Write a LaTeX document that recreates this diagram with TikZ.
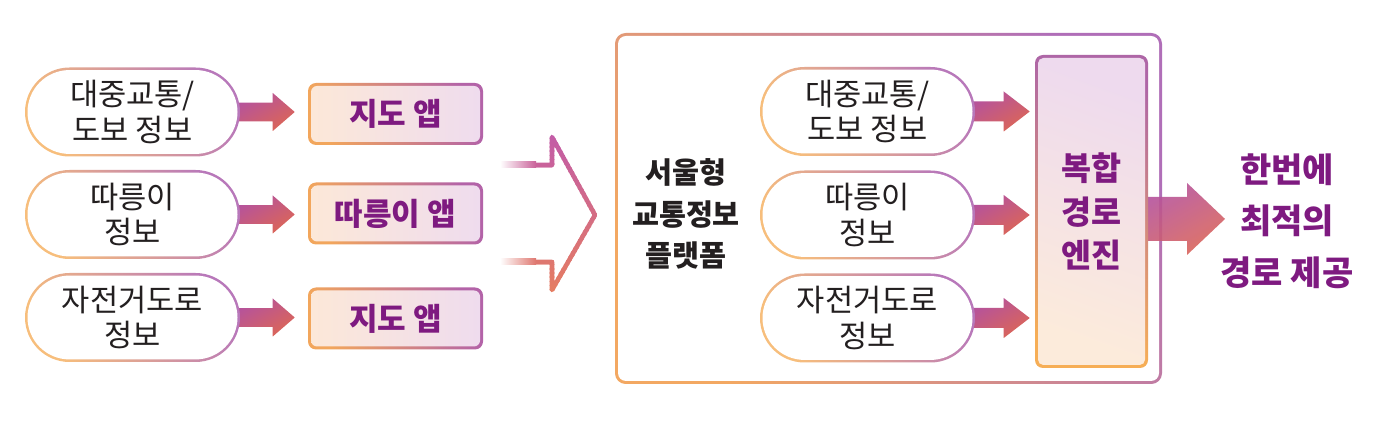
\documentclass[tikz,border=0pt]{standalone}
\usepackage{fontspec}
\newfontfamily\kr{Noto Sans CJK KR}
\usetikzlibrary{calc}
\pgfdeclarelayer{bg}
\pgfsetlayers{bg,main}
\definecolor{txt}{HTML}{231F20}
\definecolor{purp}{HTML}{7E1A80}
\definecolor{pillO}{HTML}{F7BE7C}
\definecolor{pillP}{HTML}{B878BA}
\definecolor{boxO}{HTML}{F2A65C}
\definecolor{boxP}{HTML}{B363A8}
\definecolor{boxFL}{HTML}{FCE8D8}
\definecolor{boxFR}{HTML}{EFDCEE}
\definecolor{arrT}{HTML}{B4529E}
\definecolor{arrB}{HTML}{DC6656}
\definecolor{chevT}{HTML}{C25BA8}
\definecolor{chevB}{HTML}{E67E60}
\definecolor{bigO}{HTML}{F3A862}
\definecolor{bigP}{HTML}{B06EB8}
\definecolor{engT}{HTML}{AE66A6}
\definecolor{engB}{HTML}{F6AE56}
\definecolor{engFT}{HTML}{EEDAEE}
\definecolor{engFB}{HTML}{FCEBDB}
\newcommand\fatarr[7]{% style, from, to, shaft half, head half, head length, gap
  \shade[#1] let \p1=#2, \p2=#3 in
  (\x1-3pt,\y1+#4) -- (\x2-#7-#6,\y1+#4) -- (\x2-#7-#6,\y1+#5) -- (\x2-#7,\y1)
  -- (\x2-#7-#6,\y1-#5) -- (\x2-#7-#6,\y1-#4) -- (\x1-3pt,\y1-#4) -- cycle;}
\begin{document}
\begin{tikzpicture}[x=0.75pt,y=-0.75pt,
  pillout/.style={rectangle, rounded corners=33.4pt, minimum width=161.25pt, minimum height=66.75pt, inner sep=0pt, top color=pillP, bottom color=pillO, shading angle=-60},
  pillin/.style={rectangle, rounded corners=31.5pt, minimum width=157.5pt, minimum height=62.9pt, inner sep=0pt, fill=white, text=txt, align=center, font=\kr\fontsize{23}{26.5}\selectfont},
  boxout/.style={rectangle, rounded corners=6pt, minimum width=131.25pt, minimum height=46.5pt, inner sep=0pt, top color=boxP, bottom color=boxO, shading angle=-70},
  boxin/.style={rectangle, rounded corners=4.5pt, minimum width=126.75pt, minimum height=42pt, inner sep=0pt, left color=boxFL, right color=boxFR, text=purp, font=\kr\bfseries\fontsize{23.3}{26}\selectfont},
  bigout/.style={rectangle, rounded corners=8pt, minimum width=410.25pt, minimum height=263.25pt, inner sep=0pt, top color=bigP, bottom color=bigO, shading angle=-55},
  bigin/.style={rectangle, rounded corners=6pt, minimum width=405.75pt, minimum height=258.75pt, inner sep=0pt, fill=white},
  engout/.style={rectangle, rounded corners=6pt, minimum width=84.75pt, minimum height=234.75pt, inner sep=0pt, top color=engT, bottom color=engB, shading angle=-15},
  engin/.style={rectangle, rounded corners=4pt, minimum width=80.25pt, minimum height=230.25pt, inner sep=0pt, top color=engFT, bottom color=engFB, shading angle=-20, text=purp, align=center, font=\kr\bfseries\fontsize{24.5}{32.5}\selectfont},
  midtext/.style={inner sep=0pt, text=txt, align=center, font=\kr\bfseries\fontsize{22}{31}\selectfont},
  outtext/.style={inner sep=0pt, text=purp, align=center, font=\kr\bfseries\fontsize{25.5}{38.5}\selectfont},
  arrsh/.style={top color=arrT, bottom color=arrB, shading angle=30},
  chevline/.style={line width=3.4pt, line join=round}
]
\useasboundingbox (0,0) rectangle (1375,423);

% ---------- big frame ----------
\begin{pgfonlayer}{bg}
\node[bigout] (bigb) at (888.5,208.5) {};
\node[bigin] (big) at (bigb.center) {};
\end{pgfonlayer}

% ---------- chevron ----------
\coordinate (c1) at (505,165);
\coordinate (c2) at (552,165);
\coordinate (c3) at (552,137);
\coordinate (c4) at (595,215);
\coordinate (c5) at (552,290);
\coordinate (c6) at (552,262);
\coordinate (c7) at (505,262);
\foreach \i in {0,...,39}{
  \pgfmathsetmacro\ya{130+\i*4.2}
  \pgfmathsetmacro\yb{\ya+4.7}
  \pgfmathtruncatemacro\pc{\i*100/39}
  \begin{scope}
    \clip (480,\ya) rectangle (620,\yb);
    \draw[chevline, draw=chevB!\pc!chevT] (c1) -- (c2) -- (c3) -- (c4) -- (c5) -- (c6) -- (c7);
  \end{scope}
}
\shade[left color=white, right color=chevB!20!chevT] (500,162) rectangle (536,168);
\shade[left color=white, right color=chevB!79!chevT] (500,259) rectangle (536,265);

% ---------- left column ----------
\node[pillout] (lp1b) at (132.5,112) {};
\node[pillin] (lp1) at (lp1b.center) {대중교통/\\도보 정보};
\node[pillout] (lp2b) at (132.5,214.5) {};
\node[pillin] (lp2) at (lp2b.center) {따릉이\\정보};
\node[pillout] (lp3b) at (132.5,317.5) {};
\node[pillin] (lp3) at (lp3b.center) {자전거도로\\정보};

\node[boxout] (lb1b) at (395.5,114) {};
\node[boxin] (lb1) at (lb1b.center) {지도 앱};
\node[boxout] (lb2b) at (395.5,213.5) {};
\node[boxin] (lb2) at (lb2b.center) {따릉이 앱};
\node[boxout] (lb3b) at (395.5,318.5) {};
\node[boxin] (lb3) at (lb3b.center) {지도 앱};

\begin{pgfonlayer}{bg}
\fatarr{arrsh}{(lp1b.east)}{(lb1b.west)}{7.1pt}{14.25pt}{16.5pt}{9.75pt}
\fatarr{arrsh}{(lp2b.east)}{(lb2b.west)}{7.1pt}{14.25pt}{16.5pt}{9.75pt}
\fatarr{arrsh}{(lp3b.east)}{(lb3b.west)}{7.1pt}{14.25pt}{16.5pt}{9.75pt}
\end{pgfonlayer}

% ---------- platform ----------
\node[midtext] (plat) at (686,214) {서울형\\교통정보\\플랫폼};

\node[pillout] (ip1b) at (867.5,111.5) {};
\node[pillin] (ip1) at (ip1b.center) {대중교통/\\도보 정보};
\node[pillout] (ip2b) at (867.5,215) {};
\node[pillin] (ip2) at (ip2b.center) {따릉이\\정보};
\node[pillout] (ip3b) at (867.5,318) {};
\node[pillin] (ip3) at (ip3b.center) {자전거도로\\정보};

\node[engout] (engb) at (1091.5,211.5) {};
\node[engin] (eng) at (engb.center) {복합\\경로\\엔진};

\begin{pgfonlayer}{bg}
\fatarr{arrsh}{(ip1b.east)}{(engb.west)}{7.5pt}{15pt}{19.5pt}{3.75pt}
\fatarr{arrsh}{(ip2b.east)}{(engb.west)}{7.5pt}{15pt}{19.5pt}{3.75pt}
\fatarr{arrsh}{(ip3b.east)}{(engb.west)}{7.5pt}{15pt}{19.5pt}{3.75pt}
\end{pgfonlayer}

% ---------- output ----------
\node[outtext] (res) at (1287,221) {한번에\\최적의\\경로 제공};
\coordinate (bt) at (1225,219);
\begin{pgfonlayer}{bg}
\fatarr{arrsh, opacity=0.9}{([yshift=-5.6pt]engb.east)}{(bt)}{16.5pt}{27pt}{28.5pt}{0pt}
\end{pgfonlayer}
\end{tikzpicture}
\end{document}
